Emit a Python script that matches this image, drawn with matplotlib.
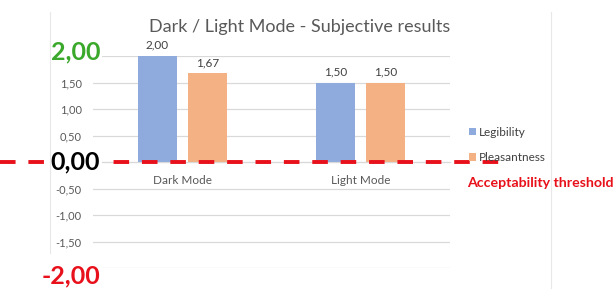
import matplotlib.pyplot as plt
from matplotlib.lines import Line2D
import numpy as np

plt.rcParams['font.family'] = ['Lato', 'DejaVu Sans']

categories = ['Dark Mode', 'Light Mode']
legibility = [2.00, 1.50]
pleasantness = [1.67, 1.50]
series_names = ['Legibility', 'Pleasantness']
y_ticks = [-2.0, -1.5, -1.0, -0.5, 0.0, 0.5, 1.0, 1.5, 2.0]
threshold = 0.0

BLUE = '#8faadc'
ORANGE = '#f4b183'
GRID = '#d9d9d9'
TXT = '#595959'


def fmt(v):
    return '{:.2f}'.format(v).replace('.', ',')


fig = plt.figure(figsize=(6.14, 2.89), dpi=100)
ax = fig.add_axes([93 / 614, 1 - 268 / 289, 357 / 614, 212 / 289])

x = np.arange(len(categories))
w = 0.22
b1 = ax.bar(x - 0.14, legibility, w, color=BLUE, label=series_names[0], zorder=2)
b2 = ax.bar(x + 0.14, pleasantness, w, color=ORANGE, label=series_names[1], zorder=2)
for bars, vals in [(b1, legibility), (b2, pleasantness)]:
    ax.bar_label(bars, labels=[fmt(v) for v in vals], padding=4, fontsize=8.5, color='#404040')

ax.set_xlim(-0.5, 1.5)
ax.set_ylim(-2, 2)
ax.set_yticks(y_ticks)
ax.set_yticklabels([fmt(v) if abs(v) not in (0.0, 2.0) else '' for v in y_ticks],
                   fontsize=8, color=TXT)
ax.tick_params(axis='y', length=0, pad=8)
ax.grid(axis='y', color=GRID, lw=0.9, zorder=0)
ax.set_axisbelow(True)
for s in ['top', 'right', 'left']:
    ax.spines[s].set_visible(False)
ax.spines['bottom'].set_position(('data', 0))
ax.spines['bottom'].set_color(GRID)
ax.set_xticks(x)
ax.set_xticklabels(categories, fontsize=8.5, color=TXT)
ax.tick_params(axis='x', length=0, pad=9)

# chart border lines
fig.add_artist(Line2D([50 / 614, 50 / 614], [1 - 253 / 289, 1 - 12 / 289], color='#e8e8e8', lw=0.8))
fig.add_artist(Line2D([551 / 614, 551 / 614], [0, 1 - 12 / 289], color='#e8e8e8', lw=0.8))

fig.text(300 / 614, 1 - 27 / 289, 'Dark / Light Mode - Subjective results',
         ha='center', va='center', fontsize=13, color=TXT)

# threshold line
ytr = ax.get_yaxis_transform()
ax.plot([-93 / 357, (499 - 93) / 357], [threshold, threshold], transform=ytr,
        color='#e8101a', lw=2.8, ls=(0, (4, 3.3)), clip_on=False, zorder=5)

big = dict(transform=ytr, ha='right', va='center', fontsize=18, fontweight='bold',
           clip_on=False, zorder=6,
           bbox=dict(facecolor='white', edgecolor='none', pad=1))
ax.text(0.02, 2.0 + 0.08, fmt(2.0), color='#3aa82a', **big)
ax.text(0.02, 0.0, fmt(0.0), color='black', **big)
ax.text(0.02, -2.0 - 0.15, fmt(-2.0), color='#e8101a', **big)

fig.text(467 / 614, 1 - 183 / 289, 'Acceptability threshold', ha='left', va='center',
         fontsize=10.2, fontweight='bold', color='#e8101a')

fig.legend(handles=[b1, b2], loc='center left', bbox_to_anchor=(458 / 614, 1 - 145 / 289),
           frameon=False, fontsize=8.5, handlelength=0.6, handleheight=0.6,
           handletextpad=0.3, labelspacing=1.25, labelcolor='#404040')

fig.savefig('out.png', dpi=100)
